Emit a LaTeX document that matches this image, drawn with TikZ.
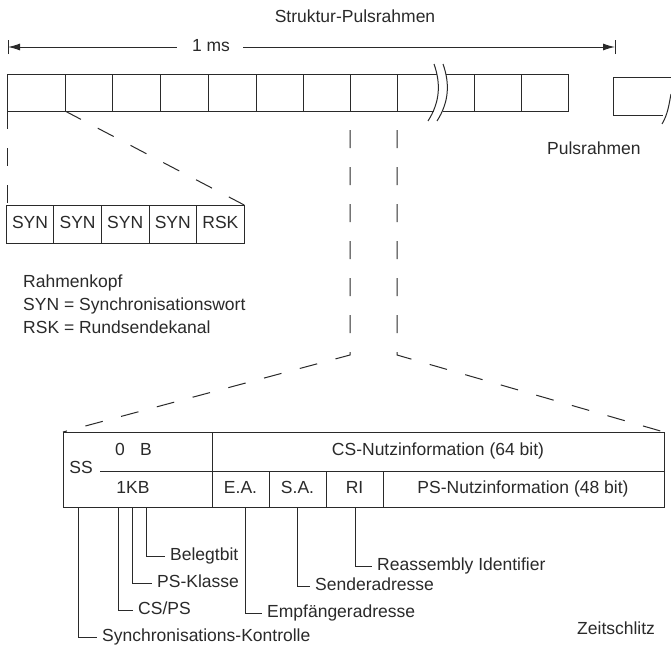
\documentclass[tikz,border=0pt]{standalone}
\usepackage{fontspec}
\setmainfont{Liberation Sans}
\usetikzlibrary{arrows.meta}
\definecolor{ink}{HTML}{2A2A2A}

\begin{document}
\begin{tikzpicture}[x=1pt,y=-1pt,
  frame/.style={draw=ink, line width=1pt},
  guide/.style={draw=ink, line width=1pt, dash pattern=on 18pt off 19pt},
  lead/.style={draw=ink, line width=1pt},
  txt/.style={text=ink, font=\fontsize{17.5}{20}\selectfont, inner sep=0pt,
              text height=12.5pt, text depth=3.5pt},
  txtw/.style={txt, anchor=west},
  cellbox/.style={draw=ink, line width=1pt, minimum width=47.6pt,
                  minimum height=38pt, inner sep=0pt, outer sep=0pt, txt},
  spanTip/.tip={Latex[length=12pt,width=7pt]}
]
\fill[white] (0,0) rectangle (671,651);
\useasboundingbox (0,0) rectangle (671,651);

% ---- heading and 1 ms span ----
\node[txt] (title) at (355,18) {Struktur-Pulsrahmen};
\coordinate (spanL) at (8,47);
\coordinate (spanR) at (615,47);
\node[txt] (ms) at (211,47) {1 ms};
\draw[lead, {spanTip}-, shorten >=15pt] (spanL) -- (ms.west);
\draw[lead, -{spanTip}, shorten <=13pt] (ms.east) -- (spanR);
\draw[lead] ([yshift=-7pt]spanL) -- ([yshift=7pt]spanL);
\draw[lead] ([yshift=-7pt]spanR) -- ([yshift=7pt]spanR);

% ---- pulse frame row ----
\draw[frame] (437,74) -- (7,74) -- (7,111) -- (433.5,111);
\draw[frame] (446,74) -- (568,74) -- (568,111) -- (442.5,111);
\foreach \x in {65,112,160,208,256,303,350,397,474,521}
  \draw[frame] (\x,74) -- (\x,111);
% break marks
\draw[frame] (434,64) .. controls (441,84) and (440,102) .. (428,121);
\draw[frame] (443,64) .. controls (450,84) and (449,102) .. (437,121);
% next frame, cut at the right
\draw[frame] (671,77) -- (613,77) -- (613,115) -- (663,115);
\draw[frame] (671,94) .. controls (669,104) and (668,114) .. (662,124);
\node[txtw] (puls) at (547,150) {Pulsrahmen};

\coordinate (f0) at (7,111);
\coordinate (f1) at (65,111);
\coordinate (f7) at (350,111);
\coordinate (f8) at (397,111);

% ---- frame header ----
\node[cellbox] (syn1) at (30.0,224) {SYN};
\node[cellbox] (syn2) at (77.6,224) {SYN};
\node[cellbox] (syn3) at (125.2,224) {SYN};
\node[cellbox] (syn4) at (172.8,224) {SYN};
\node[cellbox] (rsk)  at (220.4,224) {RSK};
\draw[guide] (f0) -- (f0 |- syn1.north);
\draw[guide] (f1) -- (rsk.north east);

\node[txtw] (legHead) at (23,283) {Rahmenkopf};
\node[txtw] (legSyn)  at (23,306) {SYN = Synchronisationswort};
\node[txtw] (legRsk)  at (23,329) {RSK = Rundsendekanal};

% ---- time slot ----
\coordinate (boxTL) at (63,432);
\coordinate (boxTR) at (664,432);
\draw[frame] (boxTL) rectangle (664,507);
\draw[frame] (212,432) -- (212,507);
\draw[frame] (100,471) -- (664,471);
\foreach \x in {269,326,383}
  \draw[frame] (\x,471) -- (\x,507);

\draw[guide, dash phase=18pt] (f7) -- (350,355) -- (boxTL);
\draw[guide, dash phase=18pt] (f8) -- (397,355) -- (boxTR);

\node[txt] (ss)   at (81,469)  {SS};
\node[txt] (zero) at (120,451) {0};
\node[txt] (bUp)  at (146,451) {B};
\node[txt] (kb)   at (133,489) {1KB};
\node[txt] (csinfo) at (438,451) {CS-Nutzinformation (64 bit)};
\node[txt] (ea)   at (240.5,489) {E.A.};
\node[txt] (sa)   at (297.5,489) {S.A.};
\node[txt] (ri)   at (354.5,489) {RI};
\node[txt] (psinfo) at (523,489) {PS-Nutzinformation (48 bit)};

% ---- field leaders ----
\coordinate (lSync) at (78,507);
\coordinate (lCsps) at (118,507);
\coordinate (lKl)   at (132,507);
\coordinate (lBel)  at (146,507);
\coordinate (lEa)   at (245,507);
\coordinate (lSa)   at (297,507);
\coordinate (lRi)   at (355,507);

\node[txtw] (tBel)  at (170,556) {Belegtbit};
\node[txtw] (tKl)   at (157,583) {PS-Klasse};
\node[txtw] (tCsps) at (138,610) {CS/PS};
\node[txtw] (tSync) at (102,637) {Synchronisations-Kontrolle};
\node[txtw] (tRi)   at (377,566) {Reassembly Identifier};
\node[txtw] (tSa)   at (315,586) {Senderadresse};
\node[txtw] (tEa)   at (267,613) {Empfängeradresse};
\node[txtw] (zeit)  at (577,630) {Zeitschlitz};

\draw[lead] (lBel)  |- ([xshift=-5pt]tBel.west);
\draw[lead] (lKl)   |- ([xshift=-5pt]tKl.west);
\draw[lead] (lCsps) |- ([xshift=-5pt]tCsps.west);
\draw[lead] (lSync) |- ([xshift=-5pt]tSync.west);
\draw[lead] (lRi)   |- ([xshift=-5pt]tRi.west);
\draw[lead] (lSa)   |- ([xshift=-5pt]tSa.west);
\draw[lead] (lEa)   |- ([xshift=-5pt]tEa.west);
\end{tikzpicture}
\end{document}
